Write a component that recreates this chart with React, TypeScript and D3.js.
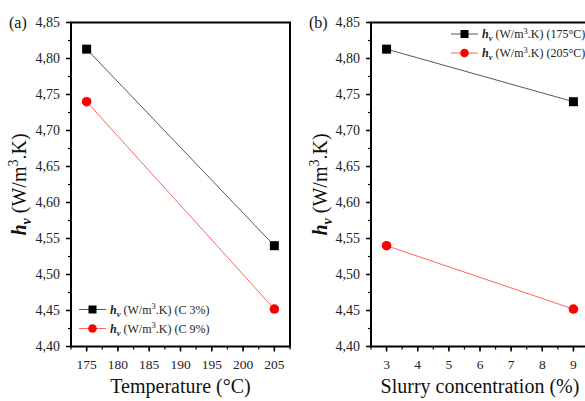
import React from "react";
import * as d3 from "d3";

const temps = [175, 205];
const concs = [3, 9];
const hvC3 = [4.813, 4.540];
const hvC9 = [4.740, 4.452];
const hv175 = [4.813, 4.740];
const hv205 = [4.540, 4.452];
const yTicks = [4.40, 4.45, 4.50, 4.55, 4.60, 4.65, 4.70, 4.75, 4.80, 4.85];
const tempTicks = [175, 180, 185, 190, 195, 200, 205];
const concTicks = [3, 4, 5, 6, 7, 8, 9];
const legendA = ["(C 3%)", "(C 9%)"];
const legendB = ["(175°C)", "(205°C)"];

const FONT = "'Liberation Serif', 'Times New Roman', Times, serif";
const top = 22.5, bottom = 346.5;

const fmt = (v: number) => d3.format(".2f")(v).replace(".", ",");

function HvLabel({ size, sub }: { size: number; sub: number }) {
  return (
    <>
      <tspan fontWeight="bold" fontStyle="italic">h</tspan>
      <tspan fontWeight="bold" fontStyle="italic" fontSize={sub} dy={size * 0.25}>v</tspan>
      <tspan dy={-size * 0.25}> (W/m</tspan>
      <tspan fontSize={sub} dy={-size * 0.38}>3</tspan>
      <tspan dy={size * 0.38}>.K)</tspan>
    </>
  );
}

function Panel({
  left, right, xDomain, xTicks, minorStep, xs, series, title, tag, legend, legendPos, labelX,
}: any) {
  const x = d3.scaleLinear().domain(xDomain).range([left, right]);
  const y = d3.scaleLinear().domain([4.40, 4.85]).range([bottom, top]);
  const minorX = d3.range(xDomain[0], xDomain[1] + 1e-9, minorStep);
  const minorY = d3.range(4.40, 4.85 + 1e-9, 0.025);
  const line = d3.line<number>().x((_, i) => x(xs[i])).y((d) => y(d));
  const colors = ["#000", "#ff0000"];
  const lineColors = ["#444", "#ff5050"];
  return (
    <g fontFamily={FONT}>
      <rect x={left} y={top} width={right - left} height={bottom - top} fill="none" stroke="#000" strokeWidth={2} />
      {minorY.map((t, i) => (
        <line key={"my" + i} x1={left} x2={left - 3} y1={y(t)} y2={y(t)} stroke="#000" strokeWidth={1.2} />
      ))}
      {yTicks.map((t) => (
        <g key={"y" + t}>
          <line x1={left} x2={left - 5} y1={y(t)} y2={y(t)} stroke="#000" strokeWidth={1.5} />
          <text x={left - 11} y={y(t)} dy="0.35em" textAnchor="end" fontSize={14} fontFamily={FONT} fill="#222">
            {fmt(t)}
          </text>
        </g>
      ))}
      {minorX.map((t, i) => (
        <line key={"mx" + i} x1={x(t)} x2={x(t)} y1={bottom} y2={bottom + 3} stroke="#000" strokeWidth={1.2} />
      ))}
      {xTicks.map((t: number) => (
        <g key={"x" + t}>
          <line x1={x(t)} x2={x(t)} y1={bottom} y2={bottom + 5} stroke="#000" strokeWidth={1.5} />
          <text x={x(t)} y={368.5} textAnchor="middle" fontSize={13.5} fontFamily={FONT} fill="#222">
            {t}
          </text>
        </g>
      ))}
      {series.map((s: number[], k: number) => (
        <g key={"s" + k}>
          <path d={line(s) || ""} fill="none" stroke={lineColors[k]} strokeWidth={0.9} />
          {s.map((v, i) =>
            k === 0 ? (
              <rect key={i} x={x(xs[i]) - 4.5} y={y(v) - 4.5} width={9} height={9} fill="#000" />
            ) : (
              <circle key={i} cx={x(xs[i])} cy={y(v)} r={4.8} fill={colors[1]} />
            )
          )}
        </g>
      ))}
      {legend.map((lab: string, k: number) => {
        const ly = legendPos.y + k * 19;
        const lx = legendPos.x;
        return (
          <g key={"l" + k}>
            <line x1={lx} x2={lx + 27} y1={ly} y2={ly} stroke={lineColors[k]} strokeWidth={0.9} />
            {k === 0 ? (
              <rect x={lx + 13.5 - 4} y={ly - 4} width={8} height={8} fill="#000" />
            ) : (
              <circle cx={lx + 13.5} cy={ly} r={4.3} fill={colors[1]} />
            )}
            <text x={lx + 31} y={ly} dy="0.35em" fontSize={12} fontFamily={FONT} fill="#222">
              <HvLabel size={12} sub={8.5} />
              <tspan> {lab}</tspan>
            </text>
          </g>
        );
      })}
      <text x={(left + right) / 2} y={393} textAnchor="middle" fontSize={20} fontFamily={FONT} fill="#111">
        {title}
      </text>
      <text
        transform={`translate(${labelX},${(top + bottom) / 2}) rotate(-90)`}
        textAnchor="middle"
        dy="0.35em"
        fontSize={20}
        fontFamily={FONT}
        fill="#111"
      >
        <HvLabel size={20} sub={14} />
      </text>
      <text x={tag.x} y={28} fontSize={16} fontFamily={FONT} fill="#111">
        {tag.text}
      </text>
    </g>
  );
}

export default function App() {
  return (
    <svg width={585} height={401} style={{ position: "absolute", left: 0, top: 0, background: "#fff" }}>
      <rect width={585} height={401} fill="#fff" />
      <Panel
        left={71}
        right={290}
        xDomain={[172.5, 207.5]}
        xTicks={tempTicks}
        minorStep={2.5}
        xs={temps}
        series={[hvC3, hvC9]}
        title="Temperature (°C)"
        tag={{ x: 9, text: "(a)" }}
        legend={legendA}
        legendPos={{ x: 79, y: 309.5 }}
        labelX={18.5}
      />
      <Panel
        left={371}
        right={589}
        xDomain={[2.5, 9.5]}
        xTicks={concTicks}
        minorStep={0.5}
        xs={concs}
        series={[hv175, hv205]}
        title="Slurry concentration (%)"
        tag={{ x: 309, text: "(b)" }}
        legend={legendB}
        legendPos={{ x: 451, y: 34 }}
        labelX={320}
      />
    </svg>
  );
}
